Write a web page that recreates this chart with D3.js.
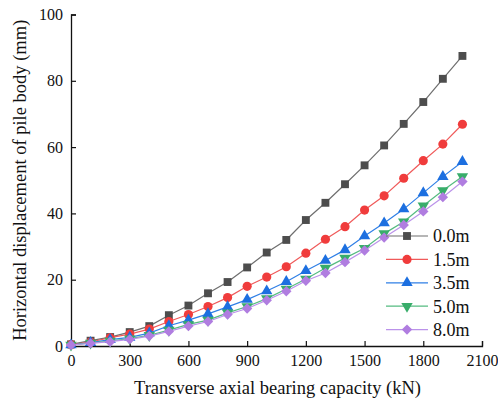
<!DOCTYPE html>
<html>
<head>
<meta charset="utf-8">
<script src="https://cdn.jsdelivr.net/npm/d3@7"></script>
<style>
  html, body { margin: 0; padding: 0; background: #fff; }
  svg { display: block; font-family: "Liberation Serif", "Times New Roman", serif; }
</style>
</head>
<body>
<svg id="chart" width="498" height="402"></svg>
<script>
// Transverse axial bearing capacity (kN)
const loads = [0, 100, 200, 300, 400, 500, 600, 700, 800, 900, 1000,
               1100, 1200, 1300, 1400, 1500, 1600, 1700, 1800, 1900, 2000];

// Horizontal displacement (mm) at each depth
const depth00 = [0.5, 1.6, 2.7, 4.2, 6.0, 9.3, 12.2, 15.9, 19.3, 23.7, 28.2,
                 32.0, 38.0, 43.2, 48.8, 54.5, 60.5, 67.0, 73.6, 80.6, 87.5];
const depth15 = [0.4, 1.2, 2.5, 3.6, 5.1, 7.4, 9.5, 11.9, 14.6, 18.0, 20.8,
                 23.9, 28.0, 32.2, 36.0, 41.0, 45.3, 50.6, 55.9, 60.9, 66.9];
const depth35 = [0.3, 1.0, 1.9, 2.6, 3.9, 6.1, 7.8, 9.7, 11.8, 14.0, 16.6,
                 19.4, 22.7, 25.8, 29.0, 33.2, 37.1, 41.3, 46.2, 51.1, 55.6];
const depth50 = [0.3, 0.9, 1.5, 2.2, 3.2, 4.8, 6.5, 7.8, 10.0, 11.9, 14.3,
                 17.2, 20.2, 23.5, 26.5, 29.5, 33.9, 37.5, 42.3, 46.9, 51.1];
const depth80 = [0.3, 0.8, 1.3, 2.0, 3.0, 4.4, 6.0, 7.4, 9.5, 11.3, 13.8,
                 16.5, 19.7, 22.0, 25.3, 28.8, 32.7, 36.5, 40.6, 44.9, 49.6];

const seriesNames = ["0.0m", "1.5m", "3.5m", "5.0m", "8.0m"];
const xTicks = [0, 300, 600, 900, 1200, 1500, 1800, 2100];
const yTicks = [0, 20, 40, 60, 80, 100];

const xTitle = "Transverse axial bearing capacity (kN)";
const yTitle = "Horizontal displacement of pile body (mm)";

// Styling per series
const styles = [
  { values: depth00, line: "#6e6e6e", fill: "#4d4d4d", shape: d3.symbolSquare,   size: 62, rot: 0 },
  { values: depth15, line: "#f05a5a", fill: "#f03c3c", shape: d3.symbolCircle,   size: 66, rot: 0 },
  { values: depth35, line: "#2f7fe6", fill: "#1c6fe0", shape: d3.symbolTriangle, size: 56, rot: 0 },
  { values: depth50, line: "#55bb80", fill: "#38ad6a", shape: d3.symbolTriangle, size: 56, rot: 180 },
  { values: depth80, line: "#bb92ea", fill: "#b07de0", shape: d3.symbolSquare,   size: 54, rot: 45 }
];

const svg = d3.select("#chart");
const margin = { left: 71, right: 16, top: 14.5, bottom: 56 };
const W = 498, H = 402;

const x = d3.scaleLinear().domain([0, 2100]).range([margin.left, W - margin.right]);
const y = d3.scaleLinear().domain([0, 100]).range([H - margin.bottom, margin.top]);

// Axes (inward ticks)
const xAxis = d3.axisBottom(x).tickValues(xTicks).tickSize(-5).tickPadding(9).tickFormat(d3.format("d"));
const yAxis = d3.axisLeft(y).tickValues(yTicks).tickSize(-5).tickPadding(8).tickFormat(d3.format("d"));

const gx = svg.append("g").attr("transform", `translate(0,${y(0)})`).call(xAxis);
const gy = svg.append("g").attr("transform", `translate(${x(0)},0)`).call(yAxis);

[gx, gy].forEach(g => {
  g.select(".domain").attr("stroke", "#111").attr("stroke-width", 1.3);
  g.selectAll(".tick line").attr("stroke", "#111").attr("stroke-width", 1.2);
  g.selectAll(".tick text").attr("fill", "#111").style("font-size", "16px")
    .style("font-family", "'Liberation Serif', 'Times New Roman', serif");
});
gx.selectAll(".tick text").attr("dy", "0.71em");

// Axis titles
svg.append("text")
  .attr("x", (x(0) + x(2100)) / 2 + 1)
  .attr("y", 394)
  .attr("text-anchor", "middle")
  .style("font-size", "18.5px")
  .attr("fill", "#111")
  .text(xTitle);

svg.append("text")
  .attr("transform", `translate(26,${(y(0) + y(100)) / 2}) rotate(-90)`)
  .attr("text-anchor", "middle")
  .style("font-size", "18.5px")
  .attr("fill", "#111")
  .text(yTitle);

// Series lines and markers
const line = d3.line().x(d => x(d[0])).y(d => y(d[1]));

styles.forEach(s => {
  const pts = loads.map((l, i) => [l, s.values[i]]);
  svg.append("path")
    .datum(pts)
    .attr("fill", "none")
    .attr("stroke", s.line)
    .attr("stroke-width", 1.2)
    .attr("d", line);
  svg.append("g").selectAll("path")
    .data(pts)
    .join("path")
    .attr("transform", d => `translate(${x(d[0])},${y(d[1])}) rotate(${s.rot})`)
    .attr("d", d3.symbol().type(s.shape).size(s.size))
    .attr("fill", s.fill);
});

// Legend
const legend = svg.append("g");
const legX0 = 386, legX1 = 428, legTextX = 433;
const legY0 = 236, legStep = 23.4;
styles.forEach((s, i) => {
  const ly = legY0 + i * legStep;
  legend.append("line")
    .attr("x1", legX0).attr("x2", legX1)
    .attr("y1", ly).attr("y2", ly)
    .attr("stroke", s.line).attr("stroke-width", 1.2);
  legend.append("path")
    .attr("transform", `translate(${(legX0 + legX1) / 2},${ly}) rotate(${s.rot})`)
    .attr("d", d3.symbol().type(s.shape).size(s.size))
    .attr("fill", s.fill);
  legend.append("text")
    .attr("x", legTextX)
    .attr("y", ly)
    .attr("dy", "0.35em")
    .style("font-size", "18px")
    .attr("fill", "#111")
    .text(seriesNames[i]);
});
</script>
</body>
</html>
